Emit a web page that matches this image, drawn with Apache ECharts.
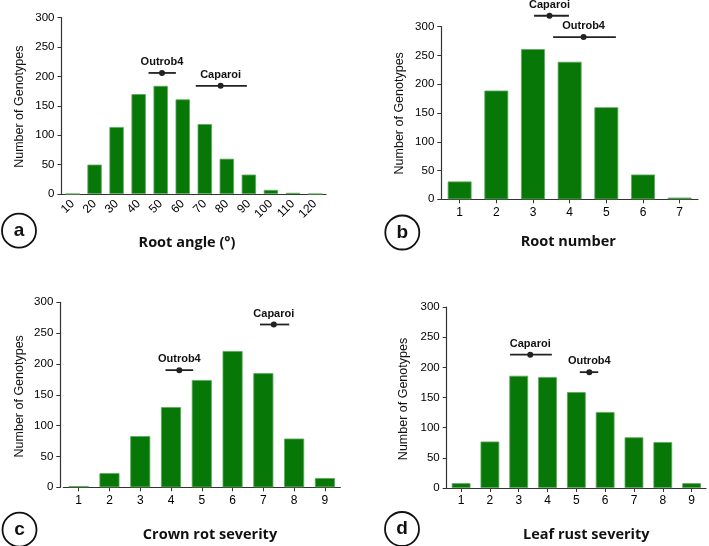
<!DOCTYPE html>
<html>
<head>
<meta charset="utf-8">
<script src="https://cdn.jsdelivr.net/npm/echarts@6/dist/echarts.min.js"></script>
<style>html,body{margin:0;padding:0;background:#fff}#c{width:709px;height:546px}</style>
</head>
<body>
<div id="c"></div>
<script>
// ---- data ----
const angleCats = ['10','20','30','40','50','60','70','80','90','100','110','120'];
const angleCounts = [0, 50, 114, 170, 184, 161, 119, 60, 33, 7, 2, 0];
const rootNumCats = ['1','2','3','4','5','6','7'];
const rootNumCounts = [31, 189, 261, 239, 160, 43, 3];
const crownCats = ['1','2','3','4','5','6','7','8','9'];
const crownCounts = [2, 23, 83, 130, 174, 221, 185, 79, 15];
const leafCats = ['1','2','3','4','5','6','7','8','9'];
const leafCounts = [8, 77, 186, 184, 159, 126, 84, 76, 8];

// markers: [mean, low, high, yLevel]
const markerNames = ['Outrob4', 'Caparoi'];
const angleMarkers = [[50.6, 44.5, 56.9, 206], [77.2, 65.9, 89.1, 184]];
const rootNumMarkers = [[4.38, 3.55, 5.26, 282], [3.45, 3.03, 3.98, 319]];
const crownMarkers = [[4.27, 3.82, 4.72, 190], [7.34, 6.89, 7.84, 264]];
const leafMarkers = [[5.45, 5.12, 5.76, 192], [3.40, 2.70, 4.15, 221]];

const yTicks = [0, 50, 100, 150, 200, 250, 300];
const xTitles = ['Root angle (°)', 'Root number', 'Crown rot severity', 'Leaf rust severity'];
const yTitle = 'Number of Genotypes';
const panelLetters = ['a', 'b', 'c', 'd'];

// ---- layout ----
const FONT = 'Liberation Sans, Arial, sans-serif';
const AX = '#333';
const panels = [
  {cats: angleCats, counts: angleCounts, markers: angleMarkers, vmin: 5, vmax: 125,
   grid: {left: 61.5, top: 17.7, width: 264.5, height: 176.3}, yOff: 0, rotate: 45, ticks: false,
   title: [187, 243], yName: [19.3, 106.7], circle: [19, 230.7]},
  {cats: rootNumCats, counts: rootNumCounts, markers: rootNumMarkers, vmin: 0.5, vmax: 7.5,
   grid: {left: 441.3, top: 26.7, width: 256.7, height: 172.6}, yOff: 0, rotate: 0, ticks: true,
   title: [568.3, 241.7], yName: [399.7, 113.3], circle: [402.3, 232.5]},
  {cats: crownCats, counts: crownCounts, markers: crownMarkers, vmin: 0.5, vmax: 9.5,
   grid: {left: 63.3, top: 302.3, width: 277, height: 185}, yOff: 3, rotate: 0, ticks: true,
   title: [210, 535.3], yName: [20, 396.3], circle: [19.5, 529.7]},
  {cats: leafCats, counts: leafCounts, markers: leafMarkers, vmin: 0.5, vmax: 9.5,
   grid: {left: 446.7, top: 307, width: 259.3, height: 181}, yOff: 0, rotate: 0, ticks: true,
   title: [586.3, 534.7], yName: [404, 399], circle: [402, 529]}
];

const grids = [], xAxes = [], yAxes = [], series = [], graphics = [];
panels.forEach((p, i) => {
  grids.push(Object.assign({containLabel: false}, p.grid));
  xAxes.push({
    type: 'category', gridIndex: i, data: p.cats, boundaryGap: true,
    axisLine: {lineStyle: {color: AX, width: 1.2}},
    axisTick: {show: p.ticks, alignWithLabel: true, length: 4, lineStyle: {color: AX}},
    axisLabel: {fontFamily: FONT, fontSize: p.rotate ? 12 : 12, color: '#000', rotate: p.rotate, margin: p.rotate ? 8 : 7, interval: 0},
    splitLine: {show: false}
  });
  xAxes.push({type: 'value', gridIndex: i, min: p.vmin, max: p.vmax, show: false});
  yAxes.push({
    type: 'value', gridIndex: i, min: yTicks[0], max: yTicks[yTicks.length - 1], interval: yTicks[1] - yTicks[0],
    offset: p.yOff,
    axisLine: {show: true, lineStyle: {color: AX, width: 1.2}},
    axisTick: {show: true, length: 4, lineStyle: {color: AX}},
    axisLabel: {fontFamily: FONT, fontSize: 11.5, color: '#000', margin: 7},
    splitLine: {show: false}
  });
  series.push({
    type: 'bar', xAxisIndex: 2 * i, yAxisIndex: i, data: p.counts, barCategoryGap: '35%',
    itemStyle: {color: '#077707', borderColor: '#5aa85a', borderWidth: 0.8},
    silent: true, animation: false
  });
  series.push({
    type: 'custom', xAxisIndex: 2 * i + 1, yAxisIndex: i, data: p.markers, clip: false, animation: false,
    encode: {x: [0, 1, 2], y: 3},
    renderItem: function (params, api) {
      const m = api.coord([api.value(0), api.value(3)]);
      const lo = api.coord([api.value(1), api.value(3)]);
      const hi = api.coord([api.value(2), api.value(3)]);
      return {type: 'group', children: [
        {type: 'line', shape: {x1: lo[0], y1: lo[1], x2: hi[0], y2: hi[1]}, style: {stroke: '#222', lineWidth: 1.8}},
        {type: 'circle', shape: {cx: m[0], cy: m[1], r: 3}, style: {fill: '#222'}},
        {type: 'text', x: m[0], y: m[1] - 11, style: {text: markerNames[params.dataIndex], font: 'bold 11px ' + FONT,
          fill: '#111', textAlign: 'center', align: 'center', textVerticalAlign: 'middle', verticalAlign: 'middle'}}
      ]};
    }
  });
  graphics.push({type: 'text', x: p.title[0], y: p.title[1], style: {text: xTitles[i],
    font: 'bold 14.5px "Open Sans", sans-serif', fill: '#111', textAlign: 'center', align: 'center', textVerticalAlign: 'middle', verticalAlign: 'middle'}});
  graphics.push({type: 'text', x: p.yName[0], y: p.yName[1], rotation: Math.PI / 2, style: {text: yTitle,
    font: '12.5px ' + FONT, fill: '#111', textAlign: 'center', align: 'center', textVerticalAlign: 'middle', verticalAlign: 'middle'}});
  graphics.push({type: 'circle', shape: {cx: p.circle[0], cy: p.circle[1], r: 17}, style: {fill: '#fff', stroke: '#111', lineWidth: 1.8}});
  graphics.push({type: 'text', x: p.circle[0], y: p.circle[1], style: {text: panelLetters[i],
    font: 'bold 19px ' + FONT, fill: '#111', textAlign: 'center', align: 'center', textVerticalAlign: 'middle', verticalAlign: 'middle'}});
});

const chart = echarts.init(document.getElementById('c'), null, {renderer: 'canvas'});
chart.setOption({
  animation: false,
  backgroundColor: '#fff',
  grid: grids, xAxis: xAxes, yAxis: yAxes, series: series, graphic: graphics
});
</script>
</body>
</html>
